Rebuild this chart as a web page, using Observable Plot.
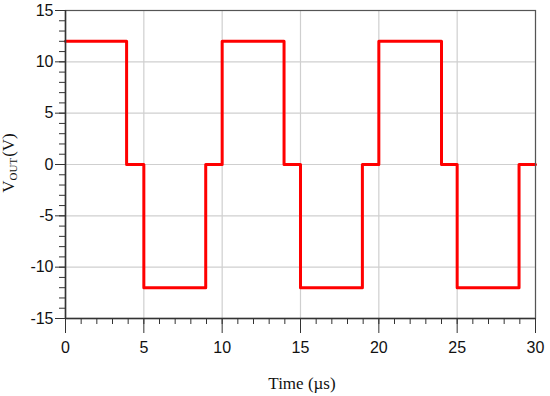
<!DOCTYPE html>
<html>
<head>
<meta charset="utf-8">
<script src="https://cdn.jsdelivr.net/npm/d3@7"></script>
<script src="https://cdn.jsdelivr.net/npm/@observablehq/plot@0.6"></script>
<style>
  html, body { margin: 0; padding: 0; background: #fff; }
  #chart svg { display: block; }
</style>
</head>
<body>
<div id="chart"></div>
<script>
// Breakpoints of the output waveform (time in µs, voltage in V), drawn as a step line
const times  = [0, 3.9, 5, 8.95, 10, 13.95, 15, 18.95, 20, 24, 25, 28.95, 30];
const volts  = [12, 0, -12, 0, 12, 0, -12, 0, 12, 0, -12, 0, 0];

const xMajorTicks = [0, 5, 10, 15, 20, 25, 30];
const yMajorTicks = [-15, -10, -5, 0, 5, 10, 15];
const xMinorTicks = d3.range(0, 31, 1);
const yMinorTicks = d3.range(-15, 16, 1);

const xLabel = "Time (µs)";
const yLabelMain = "V";
const yLabelSub = "OUT";
const yLabelUnit = "(V)";

const data = times.map((t, i) => ({t, v: volts[i]}));
const fmt = d => String(d);

const chart = Plot.plot({
  width: 550,
  height: 396,
  marginLeft: 65,
  marginRight: 15,
  marginTop: 10,
  marginBottom: 78,
  style: {fontFamily: "'Liberation Sans', Arial, sans-serif", fontSize: "15px", color: "#111", background: "#fff"},
  x: {domain: [0, 30]},
  y: {domain: [-15, 15]},
  marks: [
    Plot.gridX(xMajorTicks, {stroke: "#cfcfcf", strokeOpacity: 1, strokeWidth: 1.2}),
    Plot.gridY(yMajorTicks, {stroke: "#cfcfcf", strokeOpacity: 1, strokeWidth: 1.2}),
    Plot.line(data, {x: "t", y: "v", curve: "step-after", stroke: "#ff0000", strokeWidth: 3}),
    Plot.frame({stroke: "#555", strokeWidth: 1.2}),
    Plot.ruleX([0], {stroke: "#333", strokeWidth: 1.5}),
    Plot.ruleY([-15], {stroke: "#333", strokeWidth: 1.5}),
    Plot.axisX(xMinorTicks, {tickSize: 6, text: null, stroke: "#333", label: null}),
    Plot.axisX(xMajorTicks, {tickSize: 15, tickPadding: 8, stroke: "#333", label: null, tickFormat: fmt}),
    Plot.axisY(yMinorTicks, {tickSize: 6, text: null, stroke: "#333", label: null}),
    Plot.axisY(yMajorTicks, {tickSize: 10, tickPadding: 2, stroke: "#333", label: null, tickFormat: fmt})
  ]
});

document.getElementById("chart").appendChild(chart);

const svg = d3.select(chart);
svg.selectAll('g[aria-label$="tick label"] text')
  .style("font-size", "16px")
  .style("font-family", "'Liberation Sans', Arial, sans-serif")
  .style("fill", "#111");

// X axis title
svg.append("text")
  .attr("x", 302)
  .attr("y", 389)
  .attr("text-anchor", "middle")
  .style("font-family", "'Liberation Serif', 'Times New Roman', serif")
  .style("font-size", "17px")
  .attr("fill", "#111")
  .text(xLabel);

// Y axis title with subscript
const yt = svg.append("text")
  .attr("transform", "translate(14,163) rotate(-90)")
  .attr("text-anchor", "middle")
  .style("font-family", "'Liberation Serif', 'Times New Roman', serif")
  .style("font-size", "17px")
  .attr("fill", "#111");
yt.append("tspan").text(yLabelMain);
yt.append("tspan").style("font-size", "11px").attr("dy", 3).text(yLabelSub);
yt.append("tspan").attr("dy", -3).attr("dx", 1).text(yLabelUnit);
</script>
</body>
</html>
